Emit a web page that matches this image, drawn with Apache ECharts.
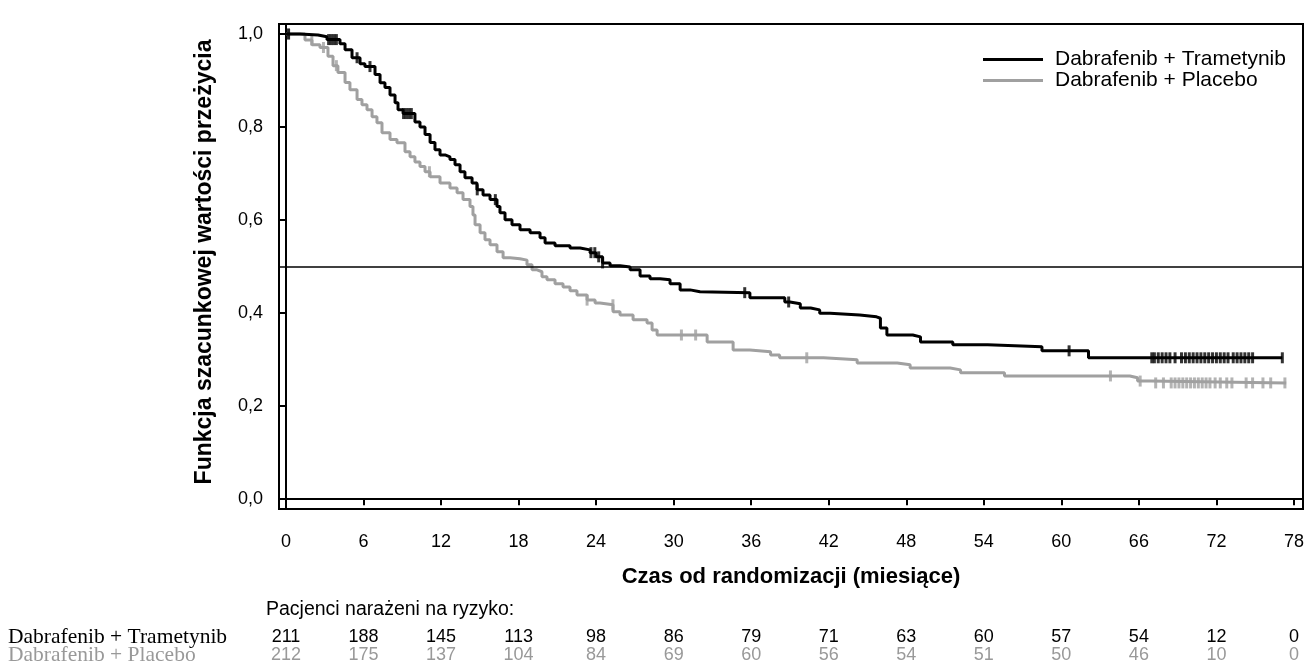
<!DOCTYPE html>
<html>
<head>
<meta charset="utf-8">
<script src="https://cdn.jsdelivr.net/npm/echarts@6/dist/echarts.min.js"></script>
<style>
  body{margin:0;background:#fff;}
  #main{width:1312px;height:667px;}
</style>
</head>
<body>
<div id="main"></div>
<script>
// miesiące na osi X
var monthTicks = [0, 6, 12, 18, 24, 30, 36, 42, 48, 54, 60, 66, 72, 78];
var survTicks = [0, 0.2, 0.4, 0.6, 0.8, 1.0];

// Dabrafenib + Trametynib: punkty krzywej schodkowej
var dtTime = [0, 1.08, 2.48, 3.17, 4.18, 4.57, 5.11, 5.73, 6.11, 6.89, 7.28, 7.66, 8.05, 8.44, 8.67, 9.06, 9.98, 10.37, 10.76, 11.15, 11.53, 11.92, 12.31, 12.69, 13.08, 13.47, 13.85, 14.4, 14.78, 15.25, 15.79, 16.33, 16.56, 16.95, 17.49, 18.11, 18.89, 19.66, 20.05, 20.82, 21.98, 22.76, 23.53, 24.0, 24.5, 25.08, 25.85, 26.63, 27.4, 28.17, 28.95, 29.72, 30.5, 31.27, 32.04, 35.9, 38.6, 39.0, 39.8, 40.6, 41.3, 42.1, 44.4, 45.7, 46.0, 46.5, 48.5, 49.1, 51.6, 54.3, 58.5, 62.1, 77.1];
var dtSurv = [1.0, 0.998, 0.994, 0.988, 0.979, 0.966, 0.949, 0.936, 0.93, 0.913, 0.895, 0.885, 0.869, 0.852, 0.837, 0.829, 0.811, 0.8, 0.784, 0.767, 0.751, 0.74, 0.736, 0.73, 0.719, 0.704, 0.691, 0.68, 0.665, 0.654, 0.644, 0.629, 0.616, 0.601, 0.59, 0.579, 0.573, 0.562, 0.551, 0.545, 0.54, 0.536, 0.53, 0.521, 0.508, 0.502, 0.499, 0.493, 0.48, 0.474, 0.472, 0.463, 0.45, 0.446, 0.444, 0.433, 0.424, 0.42, 0.411, 0.407, 0.4, 0.396, 0.392, 0.389, 0.368, 0.353, 0.349, 0.338, 0.332, 0.328, 0.319, 0.304, 0.304];
var dtCens = [0.2, 3.3, 3.5, 3.7, 3.9, 5.5, 6.5, 9.1, 9.3, 9.5, 9.7, 14.8, 16.2, 23.6, 23.9, 24.2, 24.5, 35.5, 38.9, 60.6, 67.0, 67.2, 67.5, 67.8, 68.1, 68.4, 68.8, 69.3, 69.6, 69.9, 70.2, 70.5, 70.8, 71.1, 71.4, 71.7, 72.0, 72.3, 72.6, 72.9, 73.3, 73.6, 73.9, 74.2, 74.5, 74.8, 77.1];

// Dabrafenib + Placebo
var dpTime = [0, 1.47, 2.01, 2.63, 3.25, 3.64, 4.02, 4.57, 4.95, 5.5, 5.88, 6.27, 6.66, 7.04, 7.43, 8.05, 8.59, 9.21, 9.6, 9.98, 10.37, 10.76, 11.15, 11.92, 12.69, 13.24, 13.7, 14.24, 14.47, 14.63, 15.02, 15.4, 15.79, 16.33, 16.8, 17.34, 18.11, 18.65, 19.04, 19.43, 19.81, 20.2, 20.82, 21.44, 21.98, 22.52, 23.3, 23.92, 24.3, 25.31, 25.85, 26.86, 27.94, 28.33, 28.72, 32.59, 34.6, 35.9, 37.5, 38.2, 41.6, 44.2, 47.3, 48.3, 51.4, 52.2, 55.6, 65.3, 65.9, 66.9, 77.4];
var dpSurv = [1.0, 0.987, 0.977, 0.971, 0.952, 0.932, 0.917, 0.896, 0.88, 0.859, 0.848, 0.837, 0.822, 0.809, 0.788, 0.773, 0.766, 0.747, 0.736, 0.725, 0.715, 0.704, 0.693, 0.68, 0.669, 0.659, 0.644, 0.629, 0.611, 0.59, 0.573, 0.558, 0.547, 0.532, 0.519, 0.517, 0.514, 0.504, 0.493, 0.489, 0.478, 0.472, 0.463, 0.456, 0.448, 0.439, 0.428, 0.422, 0.418, 0.403, 0.396, 0.386, 0.379, 0.364, 0.353, 0.338, 0.321, 0.317, 0.31, 0.304, 0.3, 0.293, 0.289, 0.282, 0.278, 0.272, 0.265, 0.261, 0.254, 0.25, 0.25];
var dpCens = [0.2, 2.0, 2.9, 3.9, 11.1, 23.3, 25.3, 30.6, 31.7, 40.3, 63.8, 66.1, 67.3, 67.9, 68.5, 68.8, 69.1, 69.4, 69.7, 70.0, 70.3, 70.6, 70.9, 71.2, 71.5, 71.9, 72.3, 72.8, 73.2, 74.3, 74.8, 75.6, 76.2, 77.3];

// pacjenci narażeni na ryzyko
var dtRisk = [211, 188, 145, 113, 98, 86, 79, 71, 63, 60, 57, 54, 12, 0];
var dpRisk = [212, 175, 137, 104, 84, 69, 60, 56, 54, 51, 50, 46, 10, 0];

var dtName = "Dabrafenib + Trametynib";
var dpName = "Dabrafenib + Placebo";
var grey = "#a0a0a0";
var sans = "'Liberation Sans', Arial, sans-serif";
var serif = "'Liberation Serif', 'Times New Roman', serif";

function zip(xs, ys){
    var out = [];
    for(var i=0;i<xs.length;i++){
        out.push([xs[i], ys[i]]);
    }
    return out;
}

function survAt(times, surv, t){
    var s = surv[0];
    for(var i=0;i<times.length;i++){
        if(times[i] <= t){ s = surv[i]; }
    }
    return s;
}

function censPoints(cens, times, surv){
    return cens.map(function(t){ return [t, survAt(times, surv, t)]; });
}

function riskAxis(list, color, offset){
    return {
        type: 'value', gridIndex: 0, position: 'bottom', offset: offset,
        min: -0.54, max: 78.7,
        axisLine: {show: false}, axisTick: {show: false}, splitLine: {show: false},
        axisLabel: {
            customValues: monthTicks, margin: 0, color: color,
            fontFamily: sans, fontSize: 18,
            formatter: function(v){ return String(list[Math.round(v / 6)]); }
        }
    };
}

var myChart = echarts.init(document.getElementById('main'));
var option = {
    animation: false,
    grid: {
        left: 279, right: 9, top: 24, bottom: 158,
        show: true, borderColor: '#000', borderWidth: 2
    },
    legend: {
        orient: 'vertical', left: 978, top: 44,
        itemWidth: 60, itemHeight: 3, itemGap: 0,
        textStyle: {fontFamily: sans, fontSize: 21, color: '#000', padding: [0, 0, 0, 7]},
        data: [
            {name: dtName, icon: 'rect', itemStyle: {color: '#000'}},
            {name: dpName, icon: 'rect', itemStyle: {color: grey}}
        ]
    },
    xAxis: [
        {
            type: 'value', min: -0.54, max: 78.7,
            name: 'Czas od randomizacji (miesiące)', nameLocation: 'middle', nameGap: 57,
            nameTextStyle: {fontFamily: sans, fontWeight: 'bold', fontSize: 22, color: '#000'},
            axisLine: {show: true, lineStyle: {color: '#000', width: 2}},
            axisTick: {show: true, customValues: monthTicks, length: 6, lineStyle: {color: '#000', width: 2}},
            axisLabel: {customValues: monthTicks, margin: 24, color: '#000', fontFamily: sans, fontSize: 18},
            splitLine: {show: false}
        },
        riskAxis(dtRisk, '#000', 119),
        riskAxis(dpRisk, '#999', 137)
    ],
    yAxis: {
        type: 'value', min: -0.021, max: 1.0215,
        axisLine: {show: true, lineStyle: {color: '#000', width: 2}},
        axisTick: {show: true, customValues: survTicks, length: 6, lineStyle: {color: '#000', width: 2}},
        axisLabel: {
            customValues: survTicks, margin: 16, color: '#000', fontFamily: sans, fontSize: 18,
            formatter: function(v){ return v.toFixed(1).replace('.', ','); }
        },
        splitLine: {show: false}
    },
    graphic: [
        {type: 'text', x: 205, y: 262, rotation: Math.PI / 2,
         style: {text: 'Funkcja szacunkowej wartości przeżycia', fontFamily: sans, fontWeight: 'bold', fontSize: 23, fill: '#000', align: 'center', verticalAlign: 'middle'}},
        {type: 'text', left: 266, top: 600, style: {text: 'Pacjenci narażeni na ryzyko:', fontFamily: sans, fontSize: 19.5, fill: '#000'}},
        {type: 'text', left: 8, top: 626, style: {text: dtName, fontFamily: serif, fontSize: 21.5, fill: '#000'}},
        {type: 'text', left: 8, top: 644, style: {text: dpName, fontFamily: serif, fontSize: 21.5, fill: '#999'}}
    ],
    series: [
        {
            name: dpName, type: 'line', step: 'end', showSymbol: false, z: 2,
            data: zip(dpTime, dpSurv),
            lineStyle: {color: grey, width: 3}, itemStyle: {color: grey}
        },
        {
            name: dpName + ' cenz', type: 'scatter', symbol: 'rect', symbolSize: [3, 11], z: 2,
            data: censPoints(dpCens, dpTime, dpSurv), itemStyle: {color: grey}
        },
        {
            name: dtName, type: 'line', step: 'end', showSymbol: false, z: 3,
            data: zip(dtTime, dtSurv),
            lineStyle: {color: '#000', width: 3}, itemStyle: {color: '#000'},
            markLine: {
                silent: true, symbol: 'none', label: {show: false},
                lineStyle: {color: '#000', width: 1.5, type: 'solid'},
                data: [{yAxis: 0.5}]
            }
        },
        {
            name: dtName + ' cenz', type: 'scatter', symbol: 'rect', symbolSize: [3, 11], z: 3,
            data: censPoints(dtCens, dtTime, dtSurv), itemStyle: {color: '#000'}
        }
    ]
};
myChart.setOption(option);
</script>
</body>
</html>
